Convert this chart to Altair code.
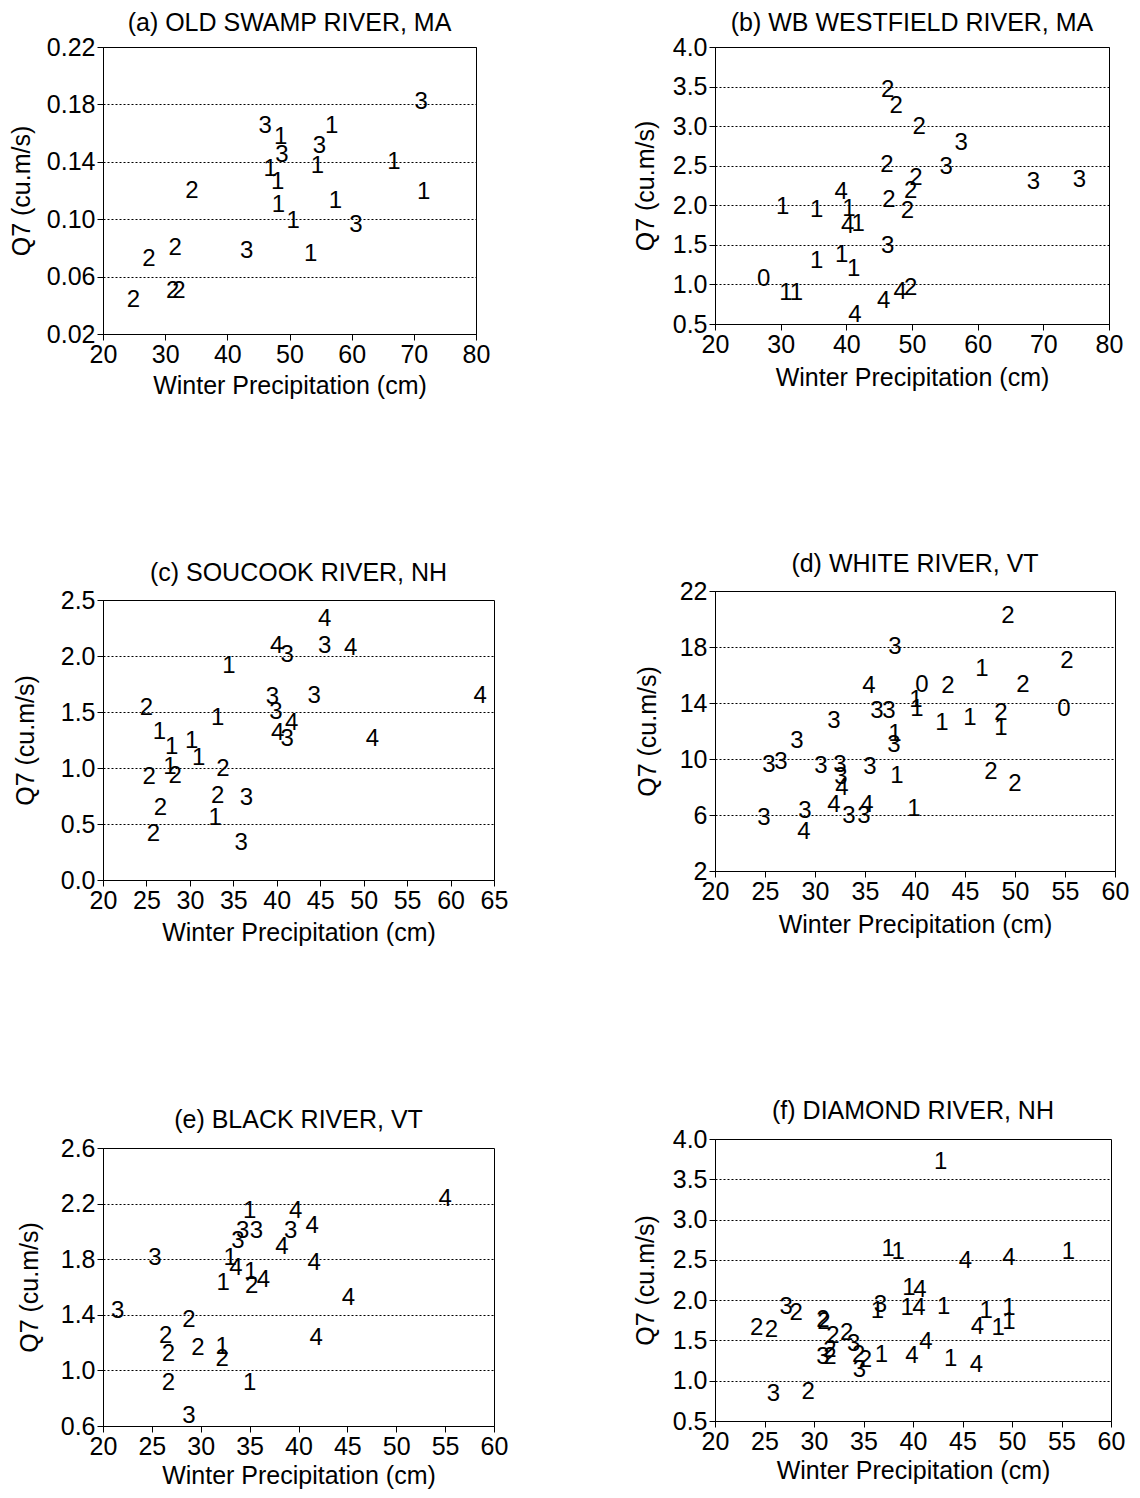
import altair as alt
import pandas as pd

FONT = "Liberation Sans"

TITLES = ["(a) OLD SWAMP RIVER, MA", "(b) WB WESTFIELD RIVER, MA", "(c) SOUCOOK RIVER, NH",
          "(d) WHITE RIVER, VT", "(e) BLACK RIVER, VT", "(f) DIAMOND RIVER, NH"]
X_TITLE = "Winter Precipitation (cm)"
Y_TITLE = "Q7 (cu.m/s)"

# (a) Old Swamp River
A_X = [71.2, 46.1, 48.6, 56.8, 54.8, 48.8, 46.9, 54.5, 66.8, 48.1, 34.3, 71.6, 48.2, 57.4, 50.6, 60.7,
       31.6, 27.4, 43.1, 53.4, 31.2, 32.2, 24.9]
A_Y = [0.182, 0.165, 0.157, 0.165, 0.151, 0.145, 0.135, 0.137, 0.140, 0.126, 0.120, 0.119, 0.110, 0.113,
       0.099, 0.096, 0.080, 0.072, 0.078, 0.076, 0.050, 0.050, 0.044]
A_L = [3, 3, 1, 1, 3, 3, 1, 1, 1, 1, 2, 1, 1, 1, 1, 3, 2, 2, 3, 1, 2, 2, 2]
A_XT = [20, 30, 40, 50, 60, 70, 80]
A_YT = [0.02, 0.06, 0.10, 0.14, 0.18, 0.22]

# (b) WB Westfield River
B_X = [46.3, 47.6, 51.1, 57.5, 46.2, 55.2, 50.6, 49.8, 68.5, 75.5, 39.2, 46.5, 49.3, 30.3, 35.5, 40.4,
       40.2, 41.8, 46.3, 35.5, 39.3, 41.1, 27.4, 30.8, 32.4, 48.2, 49.8, 45.7, 41.3]
B_Y = [3.46, 3.25, 2.99, 2.79, 2.51, 2.49, 2.34, 2.18, 2.30, 2.32, 2.17, 2.07, 1.93, 1.98, 1.94, 1.95,
       1.74, 1.76, 1.48, 1.30, 1.37, 1.19, 1.07, 0.89, 0.89, 0.90, 0.95, 0.79, 0.62]
B_L = [2, 2, 2, 3, 2, 3, 2, 2, 3, 3, 4, 2, 2, 1, 1, 1, 4, 1, 3, 1, 1, 1, 0, 1, 1, 4, 2, 4, 4]
B_XT = [20, 30, 40, 50, 60, 70, 80]
B_YT = [0.5, 1.0, 1.5, 2.0, 2.5, 3.0, 3.5, 4.0]

# (c) Soucook River
C_X = [45.5, 40.0, 41.2, 45.5, 48.5, 34.5, 39.5, 44.3, 63.4, 39.9, 25.0, 33.2, 41.7, 40.1, 41.2, 51.0,
       26.5, 27.9, 30.2, 31.0, 27.7, 28.3, 25.3, 33.8, 33.2, 36.5, 26.6, 32.9, 25.8, 35.9]
C_Y = [2.33, 2.09, 2.01, 2.09, 2.07, 1.91, 1.63, 1.64, 1.64, 1.50, 1.54, 1.45, 1.40, 1.31, 1.26, 1.26,
       1.32, 1.19, 1.24, 1.09, 1.01, 0.93, 0.92, 0.99, 0.75, 0.73, 0.64, 0.55, 0.41, 0.33]
C_L = [4, 4, 3, 3, 4, 1, 3, 3, 4, 3, 2, 1, 4, 4, 3, 4, 1, 1, 1, 1, 1, 2, 2, 2, 2, 3, 2, 1, 2, 3]
C_XT = [20, 25, 30, 35, 40, 45, 50, 55, 60, 65]
C_YT = [0.0, 0.5, 1.0, 1.5, 2.0, 2.5]

# (d) White River
D_X = [49.3, 38.0, 55.2, 46.7, 50.8, 35.4, 40.7, 43.3, 40.1, 40.2, 36.2, 37.4, 54.9, 48.6, 48.6, 42.7,
       45.5, 31.9, 28.2, 38.0, 37.9, 25.4, 26.6, 30.6, 32.5, 32.6, 32.7, 35.5, 38.2, 47.6, 50.0, 31.9,
       35.2, 34.9, 33.4, 29.0, 28.9, 24.9, 39.9]
D_Y = [20.2, 18.0, 17.0, 16.4, 15.3, 15.2, 15.3, 15.2, 14.2, 13.6, 13.4, 13.4, 13.6, 13.3, 12.2, 12.6,
       12.9, 12.7, 11.3, 11.8, 11.0, 9.6, 9.8, 9.5, 9.6, 8.7, 7.9, 9.4, 8.8, 9.1, 8.2, 6.7,
       6.7, 5.9, 5.9, 6.3, 4.8, 5.8, 6.4]
D_L = [2, 3, 2, 1, 2, 4, 0, 2, 1, 1, 3, 3, 0, 2, 1, 1, 1, 3, 3, 1, 3, 3, 3, 3, 3, 3, 4, 3, 1, 2, 2, 4,
       4, 3, 3, 3, 4, 3, 1]
D_XT = [20, 25, 30, 35, 40, 45, 50, 55, 60]
D_YT = [2, 6, 10, 14, 18, 22]

# (e) Black River
E_X = [55.0, 35.0, 39.7, 41.4, 34.3, 35.7, 33.8, 39.2, 38.3, 25.3, 33.0, 33.6, 35.1, 41.6, 32.3, 35.2,
       36.4, 45.1, 21.5, 28.8, 26.4, 41.8, 29.7, 32.2, 32.2, 26.7, 26.7, 35.0, 28.8]
E_Y = [2.23, 2.15, 2.15, 2.04, 2.00, 2.00, 1.93, 2.00, 1.89, 1.81, 1.81, 1.74, 1.71, 1.77, 1.63, 1.61,
       1.65, 1.52, 1.43, 1.36, 1.25, 1.23, 1.16, 1.17, 1.08, 1.12, 0.91, 0.91, 0.67]
E_L = [4, 1, 4, 4, 3, 3, 3, 3, 4, 3, 1, 4, 1, 4, 1, 2, 4, 4, 3, 2, 2, 4, 2, 1, 2, 2, 2, 1, 3]
E_XT = [20, 25, 30, 35, 40, 45, 50, 55, 60]
E_YT = [0.6, 1.0, 1.4, 1.8, 2.2, 2.6]

# (f) Diamond River
F_X = [42.8, 37.5, 38.5, 45.3, 49.7, 55.7, 39.6, 40.7, 39.4, 40.6, 43.1, 36.7, 36.4, 27.2, 28.2, 24.2,
       25.7, 30.9, 31.0, 31.9, 33.3, 34.0, 30.9, 31.6, 31.6, 34.5, 35.2, 34.6, 36.8, 39.9, 41.3, 43.8,
       46.4, 46.5, 47.4, 48.6, 49.7, 49.7, 25.9, 29.4]
F_Y = [3.72, 2.64, 2.60, 2.48, 2.52, 2.60, 2.15, 2.13, 1.90, 1.90, 1.92, 1.94, 1.86, 1.92, 1.84, 1.65,
       1.63, 1.75, 1.73, 1.55, 1.59, 1.46, 1.30, 1.38, 1.29, 1.32, 1.26, 1.13, 1.32, 1.31, 1.48, 1.27,
       1.19, 1.67, 1.86, 1.65, 1.90, 1.73, 0.84, 0.86]
F_L = [1, 1, 1, 4, 4, 1, 1, 4, 1, 4, 1, 3, 1, 3, 2, 2, 2, 2, 2, 2, 2, 3, 3, 2, 2, 2, 2, 3, 1, 4, 4, 1,
       4, 4, 1, 1, 1, 1, 3, 2]
F_XT = [20, 25, 30, 35, 40, 45, 50, 55, 60]
F_YT = [0.5, 1.0, 1.5, 2.0, 2.5, 3.0, 3.5, 4.0]


def panel(title, xs, ys, labs, xt, yt, yfmt, w, h, ytp, toff, xtp):
    df = pd.DataFrame({"x": xs, "y": ys, "lab": [str(v) for v in labs]})
    return alt.Chart(df, title=alt.TitleParams(title, offset=toff)).mark_text(
        font=FONT, fontSize=24, color="black", baseline="middle", align="center"
    ).encode(
        x=alt.X("x:Q", scale=alt.Scale(domain=[xt[0], xt[-1]], nice=False, zero=False),
                axis=alt.Axis(values=xt, format="d", title=X_TITLE, grid=False, titlePadding=xtp)),
        y=alt.Y("y:Q", scale=alt.Scale(domain=[yt[0], yt[-1]], nice=False, zero=False),
                axis=alt.Axis(values=yt, format=yfmt, title=Y_TITLE, grid=True, titlePadding=ytp)),
        text="lab:N",
    ).properties(width=w, height=h)


pa = panel(TITLES[0], A_X, A_Y, A_L, A_XT, A_YT, ".2f", 373, 287, 12, -1, 6)
pb = panel(TITLES[1], B_X, B_Y, B_L, B_XT, B_YT, ".1f", 394, 277, 14, -1, 8)
pc = panel(TITLES[2], C_X, C_Y, C_L, C_XT, C_YT, ".1f", 391, 280, 22, 2, 7)
pd_ = panel(TITLES[3], D_X, D_Y, D_L, D_XT, D_YT, "d", 400, 280, 19, 2, 8)
pe = panel(TITLES[4], E_X, E_Y, E_L, E_XT, E_YT, ".1f", 391, 278, 18, 3, 4)
pf = panel(TITLES[5], F_X, F_Y, F_L, F_XT, F_YT, ".1f", 396, 282, 14, 3, 4)

left = alt.vconcat(pa, pc, pe, spacing=161)
right = alt.vconcat(pb, pd_, pf, spacing=160)

chart = alt.hconcat(left, right, spacing=123).properties(
    padding={"left": 0, "top": 2, "right": 0, "bottom": 0}
).configure_view(
    stroke="black", strokeWidth=1
).configure_axis(
    labelFont=FONT, labelFontSize=25, labelColor="black", labelPadding=2,
    labelFlush=False, labelOverlap=False,
    titleFont=FONT, titleFontSize=25, titleColor="black", titleFontWeight="normal",
    domainColor="black", tickColor="black", tickSize=6,
    gridColor="black", gridDash=[2, 2], gridWidth=1, gridOpacity=1,
).configure_title(
    font=FONT, fontSize=25, fontWeight="normal", color="black", anchor="middle"
)

chart.save("out.html", embed_options={"renderer": "svg", "actions": False})
